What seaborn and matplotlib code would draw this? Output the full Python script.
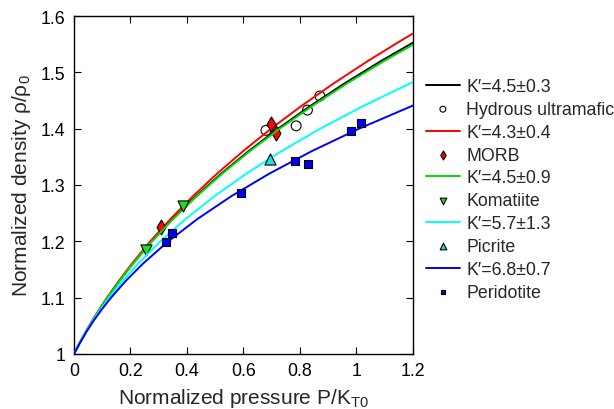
import pandas as pd
import seaborn as sns
import matplotlib.pyplot as plt

# density grid (rho/rho0) shared by all curves, pressure read per curve
rho_grid = [1.00, 1.02, 1.04, 1.06, 1.08, 1.10, 1.13, 1.16, 1.20, 1.24,
            1.28, 1.32, 1.36, 1.40, 1.44, 1.48, 1.52, 1.56, 1.60]

p_black = [0, 0.0207, 0.0428, 0.0664, 0.0916, 0.1182, 0.1611, 0.2076, 0.2754,
           0.3502, 0.4321, 0.5214, 0.6183, 0.7232, 0.8362, 0.9576, 1.0877, 1.2267]
p_red = [0, 0.0207, 0.0427, 0.0661, 0.0908, 0.1170, 0.1591, 0.2045, 0.2703,
         0.3425, 0.4212, 0.5066, 0.5989, 0.6982, 0.8049, 0.9190, 1.0408, 1.1704, 1.3082]
p_green = [0, 0.0207, 0.0429, 0.0665, 0.0917, 0.1184, 0.1615, 0.2083, 0.2766,
           0.3520, 0.4346, 0.5248, 0.6229, 0.7290, 0.8435, 0.9666, 1.0986, 1.2398]
p_cyan = [0, 0.0210, 0.0439, 0.0688, 0.0958, 0.1250, 0.1730, 0.2263, 0.3060,
          0.3961, 0.4973, 0.6100, 0.7350, 0.8727, 1.0239, 1.1891, 1.3689]
p_blue = [0, 0.0212, 0.0448, 0.0709, 0.0997, 0.1312, 0.1839, 0.2434, 0.3340,
          0.4382, 0.5570, 0.6913, 0.8419, 1.0098, 1.1960, 1.4013]

# measured points (P/KT0, rho/rho0)
hydrous_p = [0.680, 0.787, 0.827, 0.871]
hydrous_rho = [1.397, 1.405, 1.433, 1.458]
morb_p = [0.308, 0.699, 0.717]
morb_rho = [1.226, 1.408, 1.392]
komatiite_p = [0.254, 0.386]
komatiite_rho = [1.184, 1.263]
picrite_p = [0.694]
picrite_rho = [1.347]
peridotite_p = [0.327, 0.348, 0.591, 0.784, 0.828, 0.980, 1.018]
peridotite_rho = [1.198, 1.214, 1.286, 1.342, 1.337, 1.395, 1.410]

xticks = [0, 0.2, 0.4, 0.6, 0.8, 1.0, 1.2]
xticklabels = ['0', '0.2', '0.4', '0.6', '0.8', '1', '1.2']
yticks = [1.0, 1.1, 1.2, 1.3, 1.4, 1.5, 1.6]
yticklabels = ['1', '1.1', '1.2', '1.3', '1.4', '1.5', '1.6']

sns.set_style('ticks')
plt.rcParams['font.family'] = ['Liberation Sans', 'DejaVu Sans']
plt.rcParams['mathtext.fontset'] = 'custom'
plt.rcParams['mathtext.rm'] = 'Liberation Sans'

fig = plt.figure(figsize=(6.14, 4.10), dpi=100)
ax = fig.add_axes([74 / 614, 55 / 410, 338.7 / 614, 338 / 410])

curves = [
    (p_black, 'black', "K\u2032=4.5\u00b10.3"),
    (p_red, 'red', "K\u2032=4.3\u00b10.4"),
    (p_green, '#00dd00', "K\u2032=4.5\u00b10.9"),
    (p_cyan, '#00ffff', "K\u2032=5.7\u00b11.3"),
    (p_blue, '#0000ff', "K\u2032=6.8\u00b10.7"),
]
points = [
    (hydrous_p, hydrous_rho, 'o', 'none', 50, 'Hydrous ultramafic'),
    (morb_p, morb_rho, 'd', 'red', 58, 'MORB'),
    (komatiite_p, komatiite_rho, 'v', '#22dd22', 64, 'Komatiite'),
    (picrite_p, picrite_rho, '^', '#22dddd', 64, 'Picrite'),
    (peridotite_p, peridotite_rho, 's', '#0000ee', 34, 'Peridotite'),
]

order = []
for i, ((pc, col, lab), (px, py, mk, fc, sz, plab)) in enumerate(zip(curves, points)):
    df = pd.DataFrame({'P': pc, 'rho': rho_grid[:len(pc)]})
    sns.lineplot(data=df, x='P', y='rho', color=col, lw=1.4, sort=False,
                 estimator=None, label=lab, ax=ax, zorder=2 + 2 * i)
    sns.scatterplot(x=px, y=py, marker=mk, s=sz, facecolor=fc, edgecolor='black',
                    linewidth=0.8, label=plab, ax=ax, zorder=3 + 2 * i)
    order += [lab, plab]

handles, labels = ax.get_legend_handles_labels()
hmap = dict(zip(labels, handles))
ax.legend([hmap[l] for l in order], order, loc='upper left',
          bbox_to_anchor=(426 / 614, 1 - 79 / 410), bbox_transform=fig.transFigure,
          frameon=False, fontsize=12.8, borderpad=0, borderaxespad=0,
          handlelength=1.9, handletextpad=0.35, labelspacing=0.33, markerscale=0.6)

ax.set_xlim(0, 1.2)
ax.set_ylim(1, 1.6)
ax.set_xticks(xticks)
ax.set_xticklabels(xticklabels)
ax.set_yticks(yticks)
ax.set_yticklabels(yticklabels)
ax.tick_params(direction='in', top=True, right=True, length=5, width=0.8,
               labelsize=12.8, pad=6, colors='black')
for sp in ax.spines.values():
    sp.set_linewidth(1.0)
    sp.set_color('black')
ax.set_xlabel(r'Normalized pressure P/K$_{\rm T0}$', fontsize=15, labelpad=4.5)
ax.set_ylabel(r'Normalized density ρ/ρ$_0$', fontsize=15, labelpad=6)

fig.savefig('out.png', dpi=100)
